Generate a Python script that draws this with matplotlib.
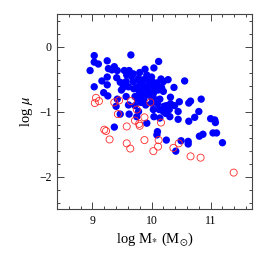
import matplotlib
matplotlib.use("Agg")
import matplotlib.pyplot as plt
from matplotlib.ticker import MultipleLocator

blue_x = [8.96, 9.03, 9.03, 9.10, 9.03, 9.16, 9.25, 9.27, 9.25, 9.19, 9.26, 9.25,
          9.37, 9.33, 9.42, 9.41, 9.47, 9.49, 9.42, 9.40, 9.47, 9.37, 9.54, 9.58,
          9.57, 9.62, 9.65, 9.66, 9.69, 9.61, 9.52, 9.57, 9.61, 9.62, 9.69, 9.72,
          9.78, 9.80, 9.75, 9.79, 9.76, 9.72, 9.75, 9.82, 9.87, 9.92, 9.89, 9.92,
          9.94, 9.87, 9.86, 9.85, 9.92, 10.00, 10.04, 10.01, 9.97, 10.02, 9.93, 10.00,
          10.03, 10.04, 10.12, 10.09, 10.11, 10.07, 10.14, 10.16, 10.20, 10.17, 10.20, 10.21,
          10.13, 10.20, 10.24, 10.14, 10.28, 10.25, 10.30, 10.31, 10.32, 10.32, 10.38, 10.39,
          10.45, 10.47, 10.45, 10.56, 10.10, 10.09, 10.50, 10.62, 10.62, 10.25, 10.41, 10.63,
          10.73, 10.80, 10.63, 10.66, 10.84, 10.81, 10.87, 11.00, 11.07, 11.08, 11.04, 11.10,
          11.20, 9.80, 9.90, 9.95, 10.05, 9.70, 9.83, 10.00, 9.90, 10.10, 9.78, 9.86, 10.03]
blue_y = [-0.37, -0.14, -0.24, -0.27, -0.62, -0.53, -0.22, -0.34, -0.47, -0.71, -0.76, -0.59,
          -0.31, -0.36, -0.37, -0.48, -0.55, -0.67, -0.81, -0.92, -1.04, -1.24, -0.37, -0.44,
          -0.54, -0.37, -0.13, -0.46, -0.42, -0.62, -0.63, -0.77, -0.90, -1.04, -0.54, -0.77,
          -0.49, -0.40, -0.63, -0.69, -0.81, -0.91, -1.08, -0.86, -0.81, -1.18, -0.35, -0.44,
          -0.51, -0.51, -0.61, -0.67, -0.62, -0.47, -0.33, -0.54, -0.69, -0.74, -0.74, -0.87,
          -0.97, -1.08, -0.23, -0.56, -0.67, -0.82, -0.81, -0.50, -0.54, -0.63, -0.69, -0.92,
          -0.97, -1.00, -1.03, -1.10, -0.51, -0.91, -0.97, -1.08, -0.88, -0.78, -0.63, -0.91,
          -1.00, -0.85, -1.12, -0.53, -1.31, -1.36, -1.45, -1.46, -1.50, -1.44, -1.61, -1.15,
          -1.09, -1.00, -0.87, -0.84, -0.81, -1.38, -1.35, -1.11, -1.13, -1.17, -1.33, -1.33,
          -1.48, -0.55, -0.72, -0.60, -0.62, -0.65, -0.75, -0.78, -0.90, -0.88, -1.00, -0.77, -0.72]

red_x = [9.06, 9.04, 9.11, 9.37, 9.45, 9.43, 9.65, 9.75, 9.72, 9.79, 9.80, 9.88,
         9.98, 10.16, 9.20, 9.23, 9.29, 9.58, 9.58, 9.64, 9.88, 10.12, 10.11, 10.03,
         10.37, 10.46, 10.66, 10.83, 11.39]
red_y = [-0.79, -0.87, -0.84, -0.86, -0.83, -1.04, -0.84, -0.97, -1.14, -1.19, -1.22, -1.09,
         -0.86, -1.17, -1.28, -1.30, -1.43, -1.23, -1.49, -1.57, -1.44, -1.44, -1.54, -1.61,
         -1.56, -1.49, -1.69, -1.71, -1.94]

xticks = [9, 10, 11]
yticks = [-2, -1, 0]

plt.rcParams['font.family'] = ['Liberation Serif', 'DejaVu Serif']
plt.rcParams['mathtext.fontset'] = 'stix'

fig = plt.figure(figsize=(2.66, 2.66), dpi=100)
ax = fig.add_axes([57/266, 1 - 209/266, 195/266, 195/266])

ax.scatter(blue_x, blue_y, s=28, c='#0000ff', edgecolors='none', zorder=2)
ax.scatter(red_x, red_y, s=26, facecolors='none', edgecolors='#ff2a2a', linewidths=0.6, zorder=3)

ax.set_xlim(8.4, 11.7)
ax.set_ylim(-2.5, 0.5)
ax.set_xticks(xticks)
ax.set_yticks(yticks)
ax.set_xticklabels([str(t) for t in xticks])
ax.set_yticklabels([str(t).replace('-', '\u2212') for t in yticks])
ax.xaxis.set_minor_locator(MultipleLocator(0.2))
ax.yaxis.set_minor_locator(MultipleLocator(0.2))
ax.tick_params(which='both', direction='in', top=True, right=True, color='#444444', width=0.7)
ax.tick_params(which='major', length=5, labelsize=8.5, pad=4)
ax.tick_params(which='minor', length=2.5)
for sp in ax.spines.values():
    sp.set_color('#444444')
    sp.set_linewidth(0.8)

ax.set_xlabel(r'log M$_{*}$ (M$_{\odot}$)', fontsize=10.5, labelpad=3)
ax.set_ylabel(r'log $\mu$', fontsize=10.5, labelpad=3)

fig.savefig('out.png', dpi=100)
